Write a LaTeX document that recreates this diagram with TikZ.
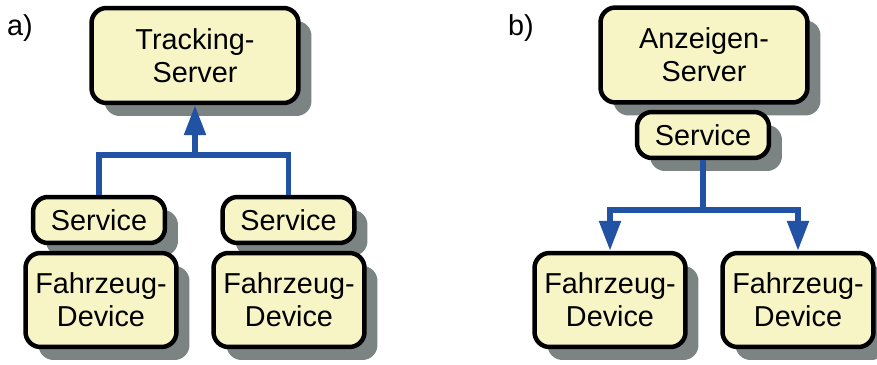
\documentclass[tikz,border=0pt]{standalone}
\usepackage{fontspec}
\setmainfont{Liberation Sans}
\usetikzlibrary{arrows.meta,shadows,positioning}

\definecolor{boxfill}{HTML}{F7F5C6}
\definecolor{shadowgray}{HTML}{7B8383}
\definecolor{linkblue}{HTML}{2152A3}

\begin{document}
\begin{tikzpicture}[
    x=0.02cm, y=-0.02cm,
    box/.style={rectangle, rounded corners=3mm, draw=black, line width=0.09cm, fill=boxfill,
                align=center, inner sep=0pt, font=\fontsize{16.4}{18.6}\selectfont,
                drop shadow={shadow xshift=0.26cm, shadow yshift=-0.26cm, fill=shadowgray, opacity=1}},
    server/.style={box, minimum width=4.14cm, minimum height=1.9cm},
    service/.style={box, minimum width=2.64cm, minimum height=0.92cm},
    device/.style={box, minimum width=3.02cm, minimum height=1.88cm},
    link/.style={draw=linkblue, line width=0.11cm},
    tip/.style={link, -{Triangle[length=0.6cm, width=0.42cm]}}
]
\useasboundingbox (0,0) rectangle (877,365);

% Panel labels
\node[font=\fontsize{16.4}{18.6}\selectfont] (lblA) at (20,28) {a)};
\node[font=\fontsize{16.4}{18.6}\selectfont] (lblB) at (521,28) {b)};

% a) Tracking
\node[server] (track) at (195,55.5) {Tracking-\\Server};
\node[service] (svcA1) at (99,220) {Service};
\node[service] (svcA2) at (288.5,220) {Service};
\node[device] (devA1) at (101,300) {Fahrzeug-\\Device};
\node[device] (devA2) at (289,300) {Fahrzeug-\\Device};

% b) Anzeigen
\node[server] (anz) at (704,55) {Anzeigen-\\Server};
\node[service] (svcB) at (703,135) {Service};
\node[device] (devB1) at (610,300) {Fahrzeug-\\Device};
\node[device] (devB2) at (798,300) {Fahrzeug-\\Device};

% Connectors a)
\coordinate (jA) at (195,155);
\draw[link] (svcA1.north) |- (jA) -| (svcA2.north);
\draw[tip] (jA) -- (track.south);

% Connectors b)
\coordinate (jB) at (703,210);
\draw[link] (svcB.south) -- (jB);
\draw[tip] (jB) -| (devB1.north);
\draw[tip] (jB) -| (devB2.north);

\end{tikzpicture}
\end{document}
